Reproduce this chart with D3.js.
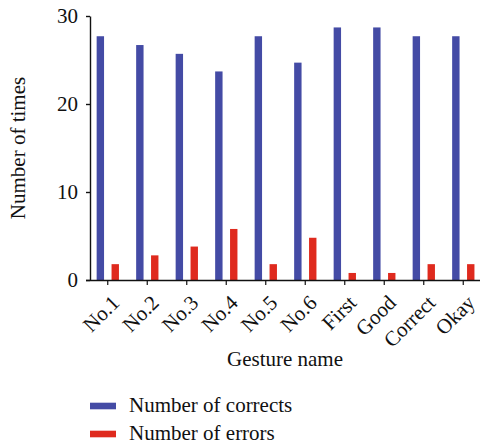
<!DOCTYPE html>
<html>
<head>
<meta charset="utf-8">
<script src="https://cdn.jsdelivr.net/npm/d3@7"></script>
<style>
  html, body { margin: 0; padding: 0; background: #fff; }
</style>
</head>
<body>
<svg id="chart" width="480" height="445"></svg>
<script>
const categories = ["No.1", "No.2", "No.3", "No.4", "No.5", "No.6", "First", "Good", "Correct", "Okay"];
const corrects = [27.7, 26.7, 25.7, 23.7, 27.7, 24.7, 28.7, 28.7, 27.7, 27.7];
const errors = [1.8, 2.8, 3.8, 5.8, 1.8, 4.8, 0.8, 0.8, 1.8, 1.8];
const yTicks = [0, 10, 20, 30];
const seriesNames = ["Number of corrects", "Number of errors"];
const colors = ["#444BA5", "#DF2A1E"];

const FONT = "'Liberation Serif', 'Times New Roman', serif";
const fs = 21;
const svg = d3.select("#chart");

const x = d3.scaleBand().domain(categories).range([88, 483]).paddingInner(0).paddingOuter(0);
const y = d3.scaleLinear().domain([0, 30]).range([280, 16]);
const barW = 7.4;
const offsets = [-7.4, 7.5];

// bars
const series = [corrects, errors];
series.forEach((vals, si) => {
  svg.append("g").selectAll("rect").data(categories).join("rect")
    .attr("x", (d) => x(d) + x.bandwidth() / 2 + offsets[si] - barW / 2)
    .attr("width", barW)
    .attr("y", (d, i) => y(vals[i]))
    .attr("height", (d, i) => y(0) - y(vals[i]))
    .attr("fill", colors[si]);
});

// y axis
const yAxis = svg.append("g").attr("transform", "translate(90,0)")
  .call(d3.axisLeft(y).tickValues(yTicks).tickSize(4).tickSizeOuter(0).tickPadding(8));
yAxis.select(".domain").attr("stroke", "#111").attr("stroke-width", 1.4);
yAxis.selectAll(".tick line").attr("stroke", "#111").attr("stroke-width", 1.4);
yAxis.selectAll(".tick text").style("font-family", FONT).style("font-size", fs + "px").attr("fill", "#111");

// x axis
const xAxis = svg.append("g").attr("transform", "translate(0,280)")
  .call(d3.axisBottom(x).tickSize(5).tickSizeOuter(0));
xAxis.select(".domain").attr("stroke", "#111").attr("stroke-width", 1.4).attr("d", "M86,0.5H480");
xAxis.selectAll(".tick line").attr("stroke", "#111").attr("stroke-width", 1.2);
xAxis.selectAll(".tick text")
  .style("font-family", FONT).style("font-size", fs + "px").attr("fill", "#111")
  .attr("text-anchor", "end")
  .attr("dy", null)
  .attr("y", null)
  .attr("transform", "translate(13,24) rotate(-45)");

// axis titles
svg.append("text")
  .attr("transform", "translate(25,148) rotate(-90)")
  .attr("text-anchor", "middle")
  .style("font-family", FONT).style("font-size", fs + "px").attr("fill", "#111")
  .text("Number of times");

svg.append("text")
  .attr("x", 285).attr("y", 366)
  .attr("text-anchor", "middle")
  .style("font-family", FONT).style("font-size", fs + "px").attr("fill", "#111")
  .text("Gesture name");

// legend
const legend = svg.append("g");
seriesNames.forEach((name, i) => {
  const cy = 406 + i * 28;
  legend.append("rect").attr("x", 90).attr("y", cy - 3.3).attr("width", 26).attr("height", 6.6).attr("fill", colors[i]);
  legend.append("text").attr("x", 129).attr("y", cy + 6)
    .style("font-family", FONT).style("font-size", fs + "px").attr("fill", "#111")
    .text(name);
});
</script>
</body>
</html>
